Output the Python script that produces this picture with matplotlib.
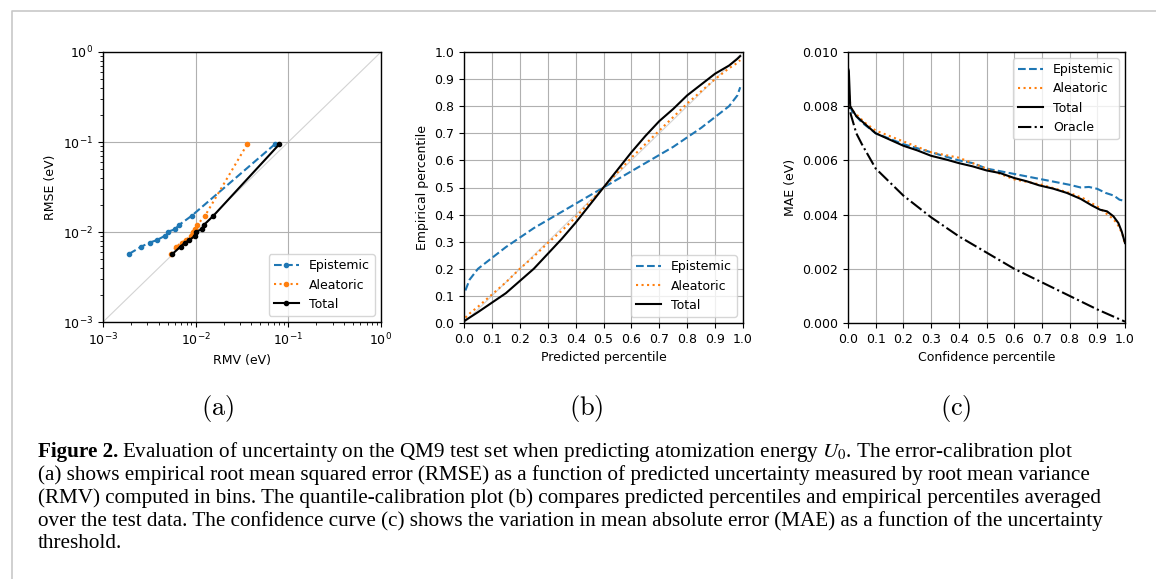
import matplotlib
matplotlib.use("Agg")
import matplotlib.pyplot as plt
from matplotlib.lines import Line2D
import numpy as np

# (a) error calibration: RMV vs RMSE, eV
rmv_epistemic = [0.00191, 0.0026, 0.0032, 0.00378, 0.00465, 0.00505, 0.00596, 0.00664, 0.00903, 0.0719]
rmse_epistemic = [0.00571, 0.00689, 0.00763, 0.0081, 0.00906, 0.0101, 0.0107, 0.012, 0.0151, 0.0948]
rmv_aleatoric = [0.0054, 0.00621, 0.00704, 0.00784, 0.00881, 0.00925, 0.00981, 0.0104, 0.0126, 0.0361]
rmse_aleatoric = [0.00571, 0.00689, 0.00763, 0.0081, 0.00906, 0.0101, 0.0107, 0.012, 0.0151, 0.0948]
rmv_total = [0.00562, 0.00687, 0.00771, 0.00852, 0.00981, 0.0102, 0.0116, 0.0123, 0.0155, 0.0802]
rmse_total = [0.00571, 0.00689, 0.00763, 0.0081, 0.00906, 0.0101, 0.0107, 0.012, 0.0151, 0.0948]

# (b) quantile calibration
pred_pct = [0.005, 0.02, 0.05, 0.1, 0.15, 0.2, 0.25, 0.3, 0.35, 0.4, 0.45, 0.5,
            0.55, 0.6, 0.65, 0.7, 0.75, 0.8, 0.85, 0.9, 0.95, 0.98, 0.99]
emp_epistemic = [0.12, 0.16, 0.2, 0.24, 0.28, 0.315, 0.35, 0.38, 0.41, 0.44, 0.47, 0.5,
                 0.53, 0.56, 0.59, 0.62, 0.65, 0.685, 0.72, 0.76, 0.8, 0.84, 0.87]
emp_aleatoric = [0.02, 0.035, 0.06, 0.105, 0.15, 0.2, 0.245, 0.295, 0.34, 0.39, 0.445, 0.5,
                 0.555, 0.61, 0.66, 0.71, 0.76, 0.81, 0.855, 0.9, 0.94, 0.96, 0.97]
emp_total = [0.01, 0.02, 0.04, 0.075, 0.11, 0.155, 0.2, 0.255, 0.31, 0.37, 0.435, 0.5,
             0.565, 0.63, 0.69, 0.745, 0.79, 0.84, 0.88, 0.92, 0.95, 0.975, 0.985]

# (c) confidence curves
conf_epistemic = [0.0, 0.005, 0.015, 0.05, 0.1, 0.15, 0.2, 0.3, 0.4, 0.45, 0.5, 0.55, 0.6, 0.65,
                  0.7, 0.75, 0.8, 0.84, 0.87, 0.9, 0.93, 0.96, 0.98, 1.0]
mae_epistemic = [0.0088, 0.0081, 0.0078, 0.0074, 0.0070, 0.0068, 0.0066, 0.0063, 0.0060, 0.0059,
                 0.0057, 0.0056, 0.0055, 0.0054, 0.0053, 0.0052, 0.0051, 0.00500, 0.00502,
                 0.00495, 0.0048, 0.0047, 0.00455, 0.0045]
conf_aleatoric = [0.0, 0.01, 0.03, 0.06, 0.1, 0.2, 0.3, 0.4, 0.5, 0.6, 0.7, 0.8, 0.85,
                  0.9, 0.95, 0.97, 0.99, 1.0]
mae_aleatoric = [0.0088, 0.0079, 0.0077, 0.0074, 0.0071, 0.0067, 0.0063, 0.0061, 0.0057, 0.0053,
                 0.0051, 0.0048, 0.0046, 0.0043, 0.0039, 0.0037, 0.0033, 0.0029]
conf_total = [0.0, 0.003, 0.008, 0.03, 0.066, 0.1, 0.15, 0.2, 0.25, 0.3, 0.355, 0.4, 0.45, 0.5,
              0.55, 0.6, 0.645, 0.69, 0.74, 0.79, 0.84, 0.88, 0.91, 0.935, 0.958, 0.976,
              0.988, 1.0]
mae_total = [0.0094, 0.0093, 0.0080, 0.00763, 0.0073, 0.0070, 0.00677, 0.00654, 0.00637, 0.00617,
             0.00603, 0.0059, 0.00578, 0.00563, 0.00553, 0.00535, 0.00523, 0.00508, 0.00496,
             0.0048, 0.00458, 0.00434, 0.00418, 0.00412, 0.00394, 0.00369, 0.00338, 0.00295]
conf_oracle = [0.0, 0.005, 0.01, 0.03, 0.05, 0.1, 0.15, 0.2, 0.3, 0.4, 0.5, 0.6, 0.7, 0.8, 0.9, 1.0]
mae_oracle = [0.0094, 0.0080, 0.0077, 0.0070, 0.0066, 0.0057, 0.0052, 0.0047, 0.0039, 0.0032,
              0.0026, 0.0020, 0.0015, 0.0010, 0.0005, 0.00005]

caption_lines = [
    "Evaluation of uncertainty on the QM9 test set when predicting atomization energy $U_0$. The error-calibration plot",
    "(a) shows empirical root mean squared error (RMSE) as a function of predicted uncertainty measured by root mean variance",
    "(RMV) computed in bins. The quantile-calibration plot (b) compares predicted percentiles and empirical percentiles averaged",
    "over the test data. The confidence curve (c) shows the variation in mean absolute error (MAE) as a function of the uncertainty",
    "threshold.",
]

blue = "#1f77b4"
orange = "#ff7f0e"
fs = 9

plt.rcParams["font.size"] = fs
plt.rcParams["axes.linewidth"] = 1.0

fig = plt.figure(figsize=(11.56, 5.79), dpi=100)
W, H = 1156, 579

def px_axes(x0, x1, y0, y1):
    return fig.add_axes([x0 / W, 1 - y1 / H, (x1 - x0) / W, (y1 - y0) / H])

# ---- (a)
ax1 = px_axes(103, 381, 52, 322)
ax1.plot([1e-3, 1], [1e-3, 1], color="lightgray", lw=0.8, zorder=1)
ax1.plot(rmv_epistemic, rmse_epistemic, "--", marker=".", color=blue, ms=6, lw=1.5, label="Epistemic")
ax1.plot(rmv_aleatoric, rmse_aleatoric, ":", marker=".", color=orange, ms=6, lw=1.5, label="Aleatoric")
ax1.plot(rmv_total, rmse_total, "-", marker=".", color="black", ms=6, lw=1.5, label="Total")
ax1.set_xscale("log")
ax1.set_yscale("log")
ax1.set_xlim(1e-3, 1)
ax1.set_ylim(1e-3, 1)
ax1.grid(True, which="major")
ax1.set_xlabel("RMV (eV)", fontsize=fs)
ax1.set_ylabel("RMSE (eV)", fontsize=fs)
ax1.legend(loc="lower right", fontsize=fs)

# ---- (b)
ax2 = px_axes(464, 743, 52, 323)
ax2.plot([0, 1], [0, 1], color="lightgray", lw=0.8, zorder=1)
ax2.plot(pred_pct, emp_epistemic, "--", color=blue, lw=1.5, label="Epistemic")
ax2.plot(pred_pct, emp_aleatoric, ":", color=orange, lw=1.5, label="Aleatoric")
ax2.plot(pred_pct, emp_total, "-", color="black", lw=1.5, label="Total")
ax2.set_xlim(0, 1)
ax2.set_ylim(0, 1)
ticks = np.round(np.arange(0, 1.01, 0.1), 1)
ax2.set_xticks(ticks)
ax2.set_yticks(ticks)
ax2.grid(True)
ax2.set_xlabel("Predicted percentile", fontsize=fs)
ax2.set_ylabel("Empirical percentile", fontsize=fs)
ax2.legend(loc="lower right", fontsize=fs)

# ---- (c)
ax3 = px_axes(848, 1125, 52, 323)
ax3.plot(conf_epistemic, mae_epistemic, "--", color=blue, lw=1.5, label="Epistemic")
ax3.plot(conf_aleatoric, mae_aleatoric, ":", color=orange, lw=1.5, label="Aleatoric")
ax3.plot(conf_total, mae_total, "-", color="black", lw=1.5, label="Total")
ax3.plot(conf_oracle, mae_oracle, "-.", color="black", lw=1.5, label="Oracle")
ax3.set_xlim(0, 1)
ax3.set_ylim(0, 0.010)
ax3.set_xticks(ticks)
ax3.set_yticks(np.arange(0, 0.0101, 0.002))
ax3.yaxis.set_major_formatter(matplotlib.ticker.FormatStrFormatter("%.3f"))
ax3.grid(True)
ax3.set_xlabel("Confidence percentile", fontsize=fs)
ax3.set_ylabel("MAE (eV)", fontsize=fs)
ax3.legend(loc="upper right", fontsize=fs)

# sub-figure labels
for lab, cx in [("a", 218), ("b", 586), ("c", 956)]:
    fig.text(cx / W, 1 - 408 / H, r"$\mathrm{(" + lab + r")}$", fontsize=19,
             ha="center", va="center", math_fontfamily="cm")

# frame lines
fig.add_artist(Line2D([12 / W, 12 / W, 1.0], [0.0, 1 - 11 / H, 1 - 11 / H],
                      transform=fig.transFigure, color="#c8c8c8", lw=1.2))

# caption
serif = "Liberation Serif"
cap_fs = 15.2
renderer = fig.canvas.get_renderer()
t0 = fig.text(38 / W, 1 - 452 / H, "Figure 2.", fontsize=cap_fs, fontweight="bold",
              family=serif, va="center", ha="left")
bb = t0.get_window_extent(renderer=renderer)
fig.text((bb.x1 + 4) / W, 1 - 452 / H, caption_lines[0], fontsize=cap_fs, family=serif,
         va="center", ha="left", math_fontfamily="stix")
for i, line in enumerate(caption_lines[1:]):
    fig.text(38 / W, 1 - (475 + 23 * i) / H, line, fontsize=cap_fs, family=serif,
             va="center", ha="left")

fig.savefig("out.png", dpi=100)
